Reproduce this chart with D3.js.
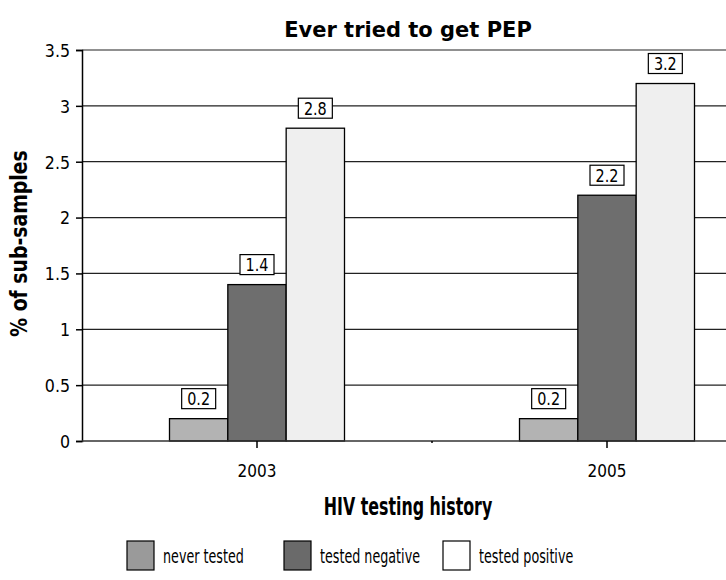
<!DOCTYPE html>
<html lang="en">
<head>
  <meta charset="UTF-8">
  <title>Ever tried to get PEP</title>
  <script src="https://d3js.org/d3.v7.min.js"></script>
  <style>
    body, html { margin: 0; padding: 0; background: #fff; }
    svg text { font-family: "DejaVu Sans", sans-serif; fill: #000; }
  </style>
</head>
<body>
  <svg width="726" height="580"></svg>
  <script>
    // data
    const years = ["2003", "2005"];
    const series = ["never tested", "tested negative", "tested positive"];
    const neverTested = [0.2, 0.2];
    const testedNegative = [1.4, 2.2];
    const testedPositive = [2.8, 3.2];
    const yTicks = [0, 0.5, 1, 1.5, 2, 2.5, 3, 3.5];

    const values = [neverTested, testedNegative, testedPositive];
    const barColors = ["#b3b3b3", "#6e6e6e", "#efefef"];
    const legendColors = ["#9a9a9a", "#6a6a6a", "#ffffff"];

    const svg = d3.select("svg");
    const margin = { top: 50, left: 82 };
    const plotH = 391;
    const plotRight = 782; // plot runs past the window edge

    // squeeze text sideways, the original uses a condensed face
    function narrow(sel, k, rot) {
      sel.each(function () {
        const t = d3.select(this);
        const x = +t.attr("x") || 0, y = +t.attr("y") || 0;
        t.attr("x", null).attr("y", null)
          .attr("transform", `translate(${x},${y})${rot ? " rotate(" + rot + ")" : ""} scale(${k},1)`);
      });
    }

    const x0 = d3.scaleBand().domain(years).range([margin.left, plotRight]).paddingInner(0).paddingOuter(0);
    const x1 = d3.scaleBand().domain(series).range([0, x0.bandwidth()]).paddingInner(0).paddingOuter(1.5);
    const y = d3.scaleLinear().domain([0, 3.5]).range([margin.top + plotH, margin.top]);

    // gridlines
    svg.append("g")
      .selectAll("line")
      .data(yTicks.filter(d => d > 0))
      .join("line")
      .attr("x1", margin.left).attr("x2", plotRight)
      .attr("y1", d => y(d)).attr("y2", d => y(d))
      .attr("stroke", "#222").attr("stroke-width", 1.2);

    // y axis
    const yAxis = svg.append("g")
      .attr("transform", `translate(${margin.left},0)`)
      .call(d3.axisLeft(y).tickValues(yTicks).tickSize(6).tickPadding(6).tickFormat(d3.format("")));
    yAxis.attr("font-family", null);
    yAxis.select(".domain").attr("stroke", "#000").attr("stroke-width", 1.5);
    yAxis.selectAll(".tick line").attr("stroke", "#000").attr("stroke-width", 1.5);
    yAxis.selectAll("text").style("font-size", "18px").attr("dy", "0.35em").call(narrow, 0.88);

    // bars
    const groups = svg.append("g")
      .selectAll("g")
      .data(series)
      .join("g")
      .attr("fill", (d, i) => barColors[i]);

    groups.selectAll("rect")
      .data((s, i) => years.map((yr, j) => ({ s, yr, v: values[i][j] })))
      .join("rect")
      .attr("x", d => x0(d.yr) + x1(d.s))
      .attr("width", x1.bandwidth())
      .attr("y", d => y(d.v))
      .attr("height", d => y(0) - y(d.v))
      .attr("stroke", "#000").attr("stroke-width", 1.3);

    // x axis
    const xAxis = svg.append("g")
      .attr("transform", `translate(0,${y(0)})`)
      .call(d3.axisBottom(x0).tickSize(7).tickPadding(16));
    xAxis.attr("font-family", null);
    xAxis.select(".domain").attr("d", `M${margin.left},0H${plotRight}`).attr("stroke", "#333").attr("stroke-width", 1.5);
    xAxis.selectAll(".tick line").attr("stroke", "#000").attr("stroke-width", 1.5);
    xAxis.selectAll("text").style("font-size", "18px").call(narrow, 0.85);
    // small divider mark between the categories
    svg.append("line")
      .attr("x1", x0("2005")).attr("x2", x0("2005"))
      .attr("y1", y(0)).attr("y2", y(0) + 2)
      .attr("stroke", "#000").attr("stroke-width", 1.5);

    // value labels
    const labels = svg.append("g")
      .selectAll("g")
      .data(series.flatMap((s, i) => years.map((yr, j) => ({ s, yr, v: values[i][j] }))))
      .join("g")
      .attr("transform", d => `translate(${x0(d.yr) + x1(d.s) + x1.bandwidth() / 2},${y(d.v) - 20})`);
    labels.append("rect")
      .attr("x", -17).attr("y", -10).attr("width", 34).attr("height", 20)
      .attr("fill", "#fff").attr("stroke", "#000").attr("stroke-width", 1.2);
    labels.append("text")
      .attr("text-anchor", "middle").attr("dy", "0.36em")
      .style("font-size", "18px")
      .text(d => d.v)
      .call(narrow, 0.8);

    // titles
    svg.append("text")
      .attr("x", 408).attr("y", 37)
      .attr("text-anchor", "middle")
      .style("font-size", "21px").style("font-weight", "bold")
      .text("Ever tried to get PEP");

    svg.append("text")
      .attr("x", 408).attr("y", 515)
      .attr("text-anchor", "middle")
      .style("font-size", "24px").style("font-weight", "bold")
      .text("HIV testing history")
      .call(narrow, 0.66);

    svg.append("text")
      .attr("x", 27).attr("y", margin.top + plotH / 2 - 2)
      .attr("text-anchor", "middle")
      .style("font-size", "23px").style("font-weight", "bold")
      .text("% of sub-samples")
      .call(narrow, 0.82, -90);

    // legend
    const legendX = [127, 284, 443];
    const legend = svg.append("g")
      .selectAll("g")
      .data(series)
      .join("g")
      .attr("transform", (d, i) => `translate(${legendX[i]},541)`);
    legend.append("rect")
      .attr("width", 27).attr("height", 29)
      .attr("fill", (d, i) => legendColors[i])
      .attr("stroke", "#000").attr("stroke-width", 1.2);
    legend.append("text")
      .attr("x", 36).attr("y", 15).attr("dy", "0.36em")
      .style("font-size", "19px")
      .text(d => d)
      .call(narrow, 0.67);
  </script>
</body>
</html>
